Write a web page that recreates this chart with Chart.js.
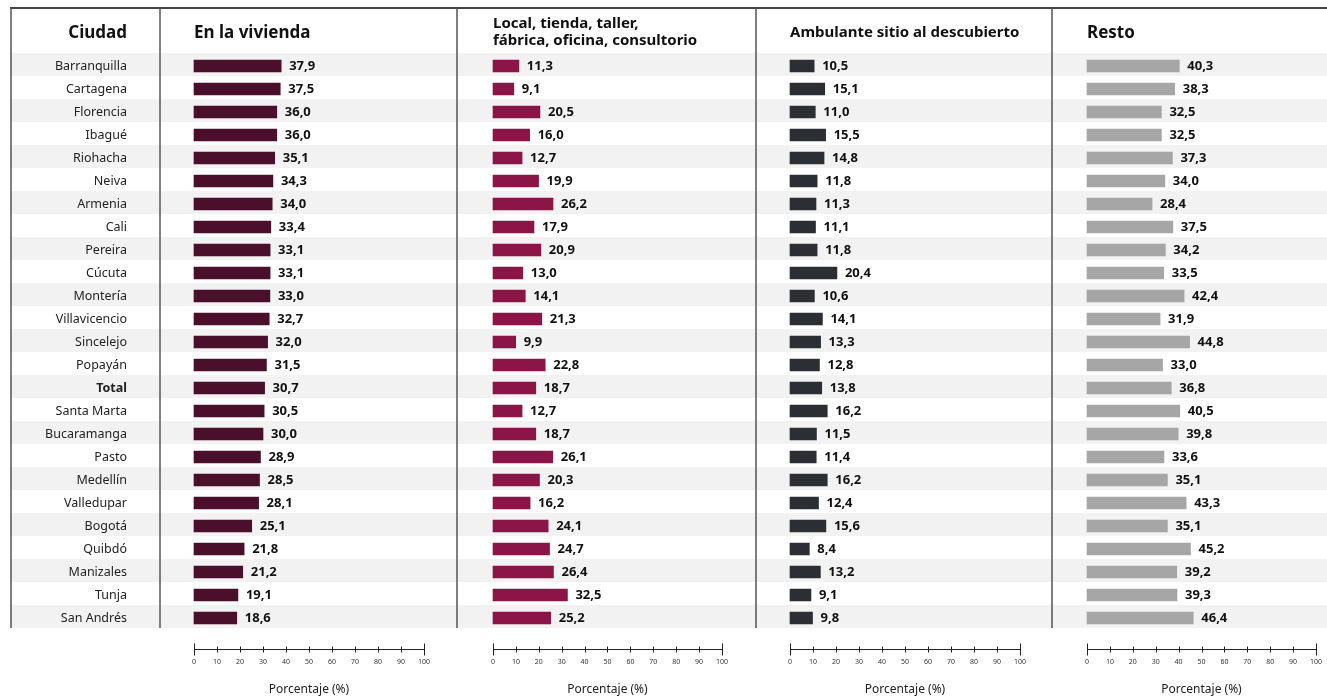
<!DOCTYPE html>
<html lang="es">
<head>
<meta charset="utf-8">
<title>Lugar de trabajo por ciudad</title>
<script src="https://cdn.jsdelivr.net/npm/chart.js@4"></script>
<style>
  html, body { margin: 0; padding: 0; background: #fff; }
  #wrap { position: relative; width: 1327px; height: 697px; }
</style>
</head>
<body>
<div id="wrap"><canvas id="grafica" width="1327" height="697"></canvas></div>
<script>
// datos
const ciudades = ["Barranquilla", "Cartagena", "Florencia", "Ibagué", "Riohacha", "Neiva", "Armenia",
  "Cali", "Pereira", "Cúcuta", "Montería", "Villavicencio", "Sincelejo", "Popayán", "Total",
  "Santa Marta", "Bucaramanga", "Pasto", "Medellín", "Valledupar", "Bogotá", "Quibdó",
  "Manizales", "Tunja", "San Andrés"];
const enVivienda = [37.9, 37.5, 36.0, 36.0, 35.1, 34.3, 34.0, 33.4, 33.1, 33.1, 33.0, 32.7, 32.0,
  31.5, 30.7, 30.5, 30.0, 28.9, 28.5, 28.1, 25.1, 21.8, 21.2, 19.1, 18.6];
const localTienda = [11.3, 9.1, 20.5, 16.0, 12.7, 19.9, 26.2, 17.9, 20.9, 13.0, 14.1, 21.3, 9.9,
  22.8, 18.7, 12.7, 18.7, 26.1, 20.3, 16.2, 24.1, 24.7, 26.4, 32.5, 25.2];
const ambulante = [10.5, 15.1, 11.0, 15.5, 14.8, 11.8, 11.3, 11.1, 11.8, 20.4, 10.6, 14.1, 13.3,
  12.8, 13.8, 16.2, 11.5, 11.4, 16.2, 12.4, 15.6, 8.4, 13.2, 9.1, 9.8];
const resto = [40.3, 38.3, 32.5, 32.5, 37.3, 34.0, 28.4, 37.5, 34.2, 33.5, 42.4, 31.9, 44.8,
  33.0, 36.8, 40.5, 39.8, 33.6, 35.1, 43.3, 35.1, 45.2, 39.2, 39.3, 46.4];
const ticksPct = [0, 10, 20, 30, 40, 50, 60, 70, 80, 90, 100];
const encabezados = ["En la vivienda", ["Local, tienda, taller,", "fábrica, oficina, consultorio"],
  "Ambulante sitio al descubierto", "Resto"];
const tituloEje = "Porcentaje (%)";

const fuente = "'Noto Sans', 'DejaVu Sans', sans-serif";
const colores = ["#4a0f2b", "#8c1548", "#2b2f34", "#a6a6a6"];
const ejes = ["x1", "x2", "x3", "x4"];
const desfase = 1.5; // las barras van un poco por debajo del centro de la fila

function ejeX(peso, min, max) {
  return {
    type: "linear",
    position: "bottom",
    stack: "paneles",
    stackWeight: peso,
    min: min,
    max: max,
    afterBuildTicks: (s) => { s.ticks = ticksPct.map((v) => ({ value: v })); },
    afterFit: (s) => { s.height = 67.5; },
    // tickLength solo empuja las etiquetas hacia abajo, la linea se dibuja aparte
    grid: { display: false, drawTicks: true, tickLength: 28.5 },
    border: { display: false },
    ticks: { autoSkip: false, maxRotation: 0, padding: 0, color: "#333", font: { family: fuente, size: 7 } },
    title: { display: false, text: tituloEje }
  };
}

const series = [enVivienda, localTienda, ambulante, resto];

// franjas, bordes, encabezados, ejes y etiquetas de valor
const tabla = {
  id: "tabla",
  beforeDraw(chart) {
    const ctx = chart.ctx;
    const y = chart.scales.y;
    const area = chart.chartArea;
    const mitad = (y.getPixelForValue(1) - y.getPixelForValue(0)) / 2;
    ctx.save();
    ctx.fillStyle = "#f2f2f2";
    ciudades.forEach((c, i) => {
      if (i % 2 === 0) {
        const yc = y.getPixelForValue(i) - desfase;
        ctx.fillRect(10, yc - mitad, chart.width - 10, mitad * 2);
      }
    });
    ctx.strokeStyle = "#444";
    ctx.lineWidth = 2;
    ctx.beginPath();
    ctx.moveTo(10, 8);
    ctx.lineTo(chart.width, 8);
    ctx.stroke();
    ctx.lineWidth = 1.5;
    ctx.strokeStyle = "#555";
    const xs = [11].concat(ejes.map((id) => chart.scales[id].left));
    xs.forEach((x) => {
      ctx.beginPath();
      ctx.moveTo(x, 8);
      ctx.lineTo(x, area.bottom - desfase);
      ctx.stroke();
    });
    ctx.restore();
  },
  afterDatasetsDraw(chart) {
    const ctx = chart.ctx;
    ctx.save();
    ctx.fillStyle = "#111";
    ctx.font = "bold 13px " + fuente;
    ctx.textBaseline = "middle";
    ctx.textAlign = "left";
    chart.data.datasets.forEach((ds, k) => {
      chart.getDatasetMeta(k).data.forEach((bar, i) => {
        ctx.fillText(ds.data[i].toFixed(1).replace(".", ","), bar.x + 8, bar.y + 0.5);
      });
    });
    ctx.restore();
  },
  afterDraw(chart) {
    const ctx = chart.ctx;
    const y = chart.scales.y;
    ctx.save();
    ctx.fillStyle = "#111";
    ctx.textBaseline = "middle";
    ctx.font = "bold 17px " + fuente;
    ctx.textAlign = "right";
    ctx.fillText("Ciudad", y.right - y.options.ticks.padding, 33);
    ctx.textAlign = "left";
    encabezados.forEach((h, k) => {
      const x0 = chart.scales[ejes[k]].getPixelForValue(0);
      if (Array.isArray(h)) {
        ctx.font = "bold 15px " + fuente;
        ctx.fillText(h[0], x0, 24);
        ctx.fillText(h[1], x0, 41);
      } else {
        ctx.font = (h.length > 20 ? "bold 15px " : "bold 17px ") + fuente;
        ctx.fillText(h, x0, 33);
      }
    });
    // eje de porcentaje de cada panel
    ctx.strokeStyle = "#222";
    ctx.lineWidth = 1;
    ejes.forEach((id) => {
      const s = chart.scales[id];
      const base = 649.5;
      const a = s.getPixelForValue(0);
      const b = s.getPixelForValue(100);
      ctx.beginPath();
      ctx.moveTo(a, base);
      ctx.lineTo(b, base);
      s.ticks.forEach((t) => {
        const px = Math.round(s.getPixelForValue(t.value)) + 0.5;
        const h = (t.value === 0 || t.value === 100) ? 6 : 3;
        ctx.moveTo(px, base - h);
        ctx.lineTo(px, base + h);
      });
      ctx.stroke();
      ctx.fillStyle = "#222";
      ctx.font = "12px " + fuente;
      ctx.textAlign = "center";
      ctx.fillText(s.options.title.text, (a + b) / 2, 690);
    });
    ctx.restore();
  }
};

new Chart(document.getElementById("grafica"), {
  type: "bar",
  data: {
    labels: ciudades,
    datasets: series.map((d, k) => ({
      data: d,
      xAxisID: ejes[k],
      yAxisID: "y",
      backgroundColor: colores[k],
      barThickness: 12,
      grouped: false
    }))
  },
  options: {
    indexAxis: "y",
    responsive: false,
    animation: false,
    devicePixelRatio: 1,
    layout: { padding: { left: 10, top: 54.5, right: 0, bottom: 0 } },
    plugins: { legend: { display: false }, tooltip: { enabled: false } },
    scales: {
      y: {
        type: "category",
        position: "left",
        afterFit: (s) => { s.width = 150; },
        grid: { display: false, drawTicks: false },
        border: { display: false },
        ticks: {
          padding: 33,
          color: "#222",
          autoSkip: false,
          font: (c) => ({ family: fuente, size: 12.5, weight: c.tick && c.tick.label === "Total" ? "bold" : "normal" })
        }
      },
      x1: ejeX(297, -14.78, 114.35),
      x2: ejeX(299, -15.72, 114.85),
      x3: ejeX(296, -14.78, 113.9),
      x4: ejeX(275, -15.28, 104.8)
    }
  },
  plugins: [tabla]
});
</script>
</body>
</html>
